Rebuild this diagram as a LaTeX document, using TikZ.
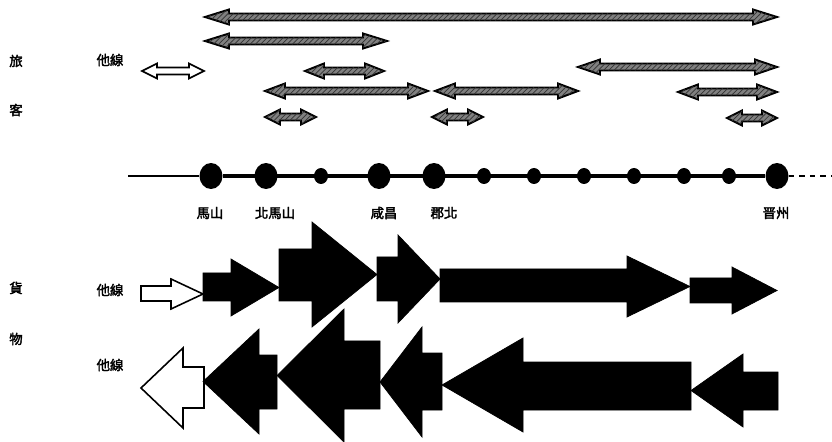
\documentclass[tikz,border=0pt]{standalone}
\usepackage{fontspec}
\usepackage{tikz}
\usetikzlibrary{shapes.geometric,patterns}
\newfontfamily\cjk{Noto Sans CJK TC}[AutoFakeBold=2.5]

% block arrow: style, tail x, head base x, tip x, shaft top, shaft bottom, head top, head bottom
\newcommand{\blockarrow}[8][]{%
  \filldraw[#1] (#2,#5) -- (#3,#5) -- (#3,#7) -- (#4,{(#7+#8)/2}) -- (#3,#8) -- (#3,#6) -- (#2,#6) -- cycle;}
% double arrow for passengers: style, left x, right x, y, head length
\newcommand{\paxarrow}[5][]{%
  \filldraw[#1] (#2,#4) -- ({#2+#5},{#4-7.5}) -- ({#2+#5},{#4-3.5}) -- ({#3-#5},{#4-3.5}) -- ({#3-#5},{#4-7.5})
    -- (#3,#4) -- ({#3-#5},{#4+7.5}) -- ({#3-#5},{#4+3.5}) -- ({#2+#5},{#4+3.5}) -- ({#2+#5},{#4+7.5}) -- cycle;}

\begin{document}
\begin{tikzpicture}[x=0.02cm, y=-0.02cm,
    lbl/.style={font=\cjk\bfseries\fontsize{7.6}{9}\selectfont, inner sep=0pt},
    bigst/.style={ellipse, fill=black, minimum width=0.46cm, minimum height=0.52cm, inner sep=0pt},
    smallst/.style={ellipse, fill=black, minimum width=0.28cm, minimum height=0.32cm, inner sep=0pt},
    hatched/.style={draw=black, line width=1.1pt, fill=black!50, postaction={pattern=north east lines, pattern color=black!80}},
    hollow/.style={draw=black, line width=0.9pt, fill=white},
    solid/.style={draw=black, fill=black}]
  \useasboundingbox (0,0) rectangle (832,442);

  % side labels
  \node[lbl] (lv) at (16,61) {旅};
  \node[lbl] (kk) at (16,110) {客};
  \node[lbl] (pt) at (110,60) {他線};
  \node[lbl] (hw) at (16,288) {貨};
  \node[lbl] (bt) at (16,339) {物};
  \node[lbl] (ft1) at (110,290) {他線};
  \node[lbl] (ft2) at (110,365) {他線};

  % passenger flows
  \paxarrow[hatched]{205}{777}{17}{24}
  \paxarrow[hatched]{205}{387}{41}{24}
  \paxarrow[hollow]{142}{204}{71}{15}
  \paxarrow[hatched]{305}{384}{71}{19}
  \paxarrow[hatched]{578}{777}{67}{22}
  \paxarrow[hatched]{265}{428}{91}{20}
  \paxarrow[hatched]{435}{578}{91}{20}
  \paxarrow[hatched]{678}{777}{92}{20}
  \paxarrow[hatched]{265}{316}{117}{15}
  \paxarrow[hatched]{432}{483}{117}{15}
  \paxarrow[hatched]{727}{777}{118}{15}

  % stations
  \coordinate (w) at (128,176);
  \coordinate (e) at (832,176);
  \node[bigst] (s1) at (211,176) {};
  \node[bigst] (s2) at (266,176) {};
  \node[smallst] (s3) at (321,176) {};
  \node[bigst] (s4) at (379,176) {};
  \node[bigst] (s5) at (434,176) {};
  \node[smallst] (s6) at (484,176) {};
  \node[smallst] (s7) at (534,176) {};
  \node[smallst] (s8) at (584,176) {};
  \node[smallst] (s9) at (634,176) {};
  \node[smallst] (s10) at (684,176) {};
  \node[smallst] (s11) at (729,176) {};
  \node[bigst] (s12) at (777,176) {};
  \draw[line width=0.6pt] (w) -- (s1);
  \draw[line width=2.2pt] (s1) -- (s12);
  \draw[line width=1pt, dashed] (s12) -- (e);

  % station names
  \node[lbl] (n1) at (210,213) {馬山};
  \node[lbl] (n2) at (275,213) {北馬山};
  \node[lbl] (n4) at (384,213) {咸昌};
  \node[lbl] (n5) at (444,213) {郡北};
  \node[lbl] (n12) at (776,213) {晋州};

  % freight flows, eastbound
  \blockarrow[hollow]{141}{171}{203}{286}{301}{279}{309}
  \blockarrow[solid]{203}{231}{279}{273}{301}{259}{316}
  \blockarrow[solid]{279}{312}{377}{249}{301}{222}{327}
  \blockarrow[solid]{377}{398}{440}{257}{301}{235}{323}
  \blockarrow[solid]{440}{627}{690}{269}{302}{256}{317}
  \blockarrow[solid]{690}{732}{777}{278}{303}{267}{314}

  % freight flows, westbound
  \blockarrow[hollow]{204}{183}{141}{367}{408}{348}{428}
  \blockarrow[solid]{277}{259}{203}{355}{409}{329}{434}
  \blockarrow[solid]{380}{344}{277}{341}{409}{309}{442}
  \blockarrow[solid]{442}{422}{380}{353}{410}{327}{437}
  \blockarrow[solid]{691}{523}{442}{362}{410}{338}{432}
  \blockarrow[solid]{778}{743}{691}{372}{410}{354}{427}
\end{tikzpicture}
\end{document}
